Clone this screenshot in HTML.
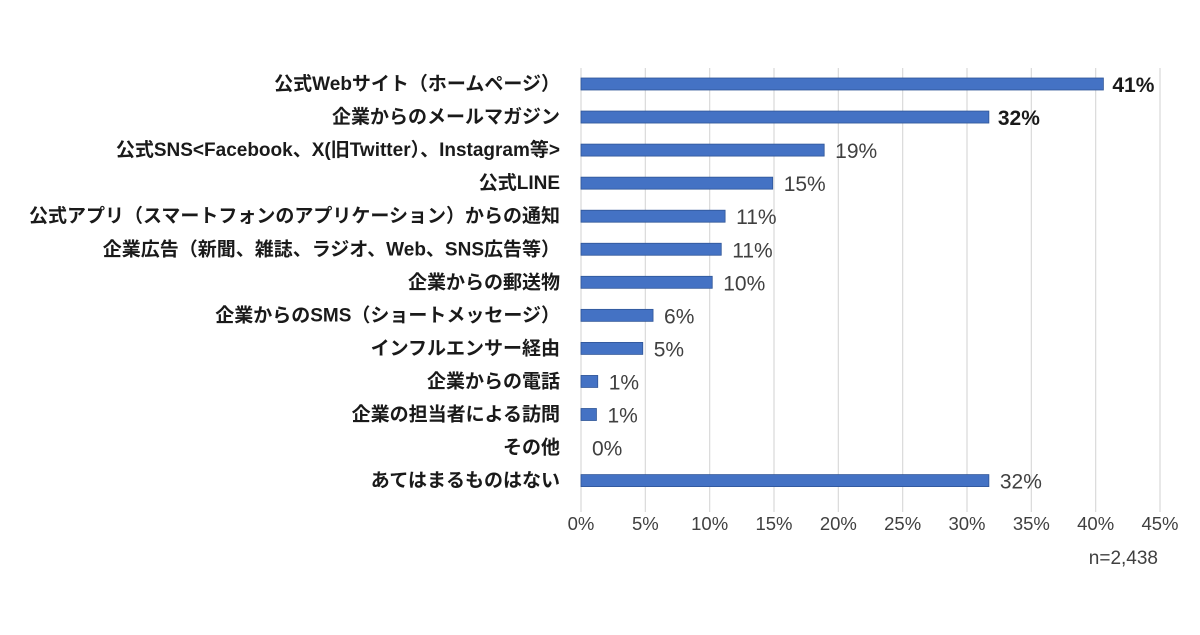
<!DOCTYPE html>
<html><head><meta charset="utf-8"><style>
body{margin:0;background:#fff;}
svg text{font-family:"Liberation Sans","Noto Sans CJK JP",sans-serif;}
</style></head><body>
<svg width="1200" height="630" id="chart"></svg>
<script>
const categories=["公式Webサイト（ホームページ）","企業からのメールマガジン","公式SNS<Facebook、X(旧Twitter）、Instagram等>","公式LINE","公式アプリ（スマートフォンのアプリケーション）からの通知","企業広告（新聞、雑誌、ラジオ、Web、SNS広告等）","企業からの郵送物","企業からのSMS（ショートメッセージ）","インフルエンサー経由","企業からの電話","企業の担当者による訪問","その他","あてはまるものはない"];
const values=[40.6,31.7,18.9,14.9,11.2,10.9,10.2,5.6,4.8,1.3,1.2,0,31.7];
const valueLabels=["41%","32%","19%","15%","11%","11%","10%","6%","5%","1%","1%","0%","32%"];
const ticks=[0,5,10,15,20,25,30,35,40,45];
const ns="http://www.w3.org/2000/svg";
const svg=document.getElementById('chart');
const x0=581,x1=1160,maxV=45,yTop=84,step=33.05;
const xs=v=>x0+(x1-x0)*v/maxV;
const ys=i=>yTop+i*step;
function mk(t,a){const e=document.createElementNS(ns,t);for(const k in a)e.setAttribute(k,a[k]);svg.appendChild(e);return e;}
ticks.forEach(t=>{
 const g=mk('line',{x1:xs(t),x2:xs(t),y1:68,y2:512,stroke:'#d9d9d9','stroke-width':1.2});
 
 
 const l=mk('text',{x:xs(t),y:530,'text-anchor':'middle','font-size':18.5,fill:'#404040'});
 l.textContent=t+'%';
 
 
});
categories.forEach((c,i)=>{
 const y=ys(i);
 const lab=mk('text',{x:560,y:y+6,'text-anchor':'end','font-size':19,'font-weight':'bold',fill:'#1a1a1a'});
 lab.textContent=c;
 
 
 const b=mk('rect',{x:x0,y:y-6,width:Math.max(0,xs(values[i])-x0),height:12,fill:'#4472c4',stroke:values[i]>0?'#2f5597':'none','stroke-width':0.8});
 
 
 const bold=i<2;
 const v=mk('text',{x:xs(values[i])+(bold?9:11),y:y+8,'font-size':21,fill:bold?'#1a1a1a':'#404040','font-weight':bold?'bold':'normal'});
 v.textContent=valueLabels[i];
 
 
});
const n=mk('text',{x:1158,y:564,'text-anchor':'end','font-size':19,fill:'#404040'});
n.textContent='n=2,438';


</script>
</body></html>
